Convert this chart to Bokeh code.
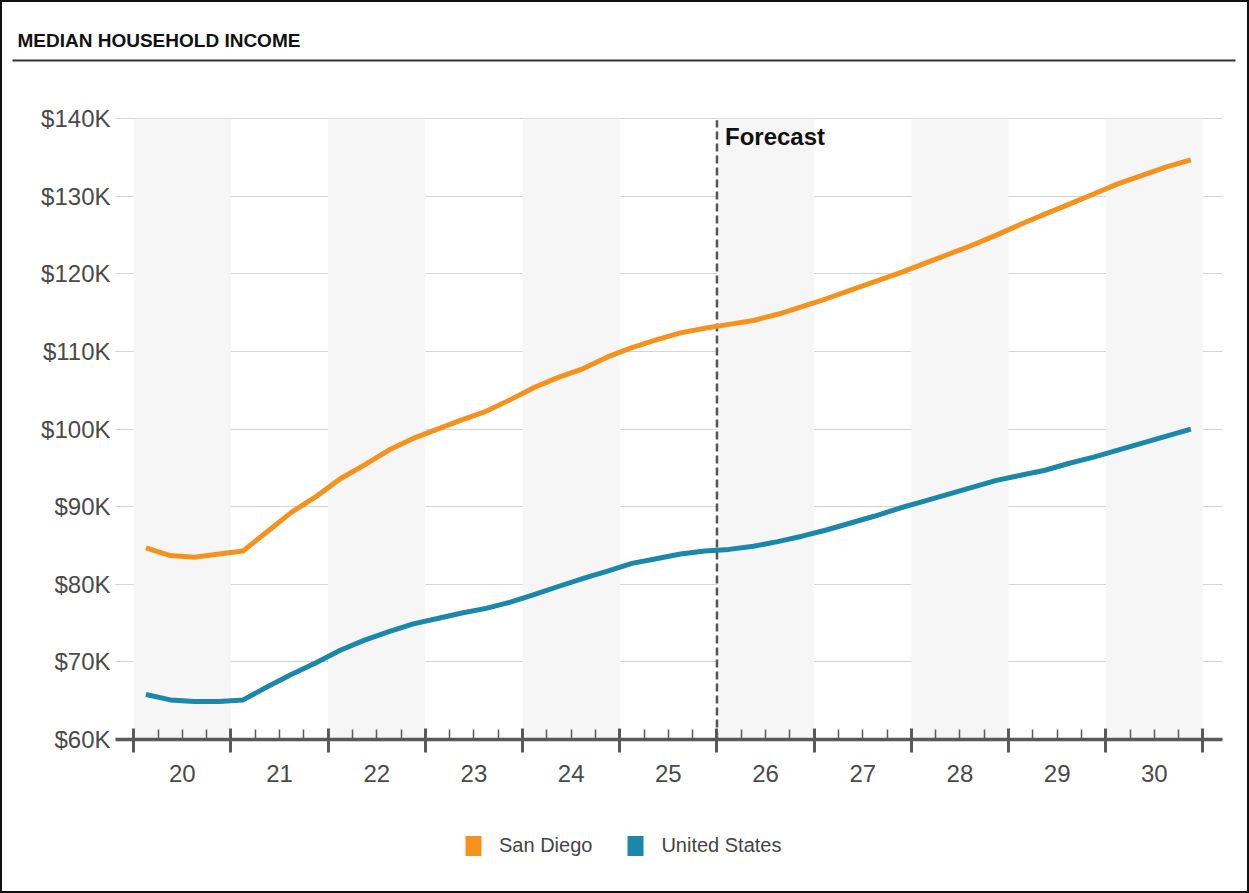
from bokeh.plotting import figure
from bokeh.layouts import column
from bokeh.models import (Range1d, LinearAxis, FixedTicker, Grid, Label, Legend, LegendItem,
                          CustomLabelingPolicy)
from bokeh.embed import file_html
from bokeh.resources import INLINE

# ---------------- data ----------------
title_text = "MEDIAN HOUSEHOLD INCOME"
years = [2020, 2021, 2022, 2023, 2024, 2025, 2026, 2027, 2028, 2029, 2030]
year_labels = ["20", "21", "22", "23", "24", "25", "26", "27", "28", "29", "30"]
quarters = [1, 2, 3, 4]

san_diego = [84.7, 83.7, 83.5, 83.9, 84.3, 86.8, 89.3, 91.3, 93.6, 95.4, 97.3, 98.8,
             100.0, 101.2, 102.3, 103.8, 105.4, 106.7, 107.8, 109.3, 110.5, 111.5, 112.4, 113.0,
             113.5, 114.0, 114.8, 115.8, 116.8, 117.9, 119.0, 120.1, 121.3, 122.5, 123.7, 125.0,
             126.4, 127.7, 129.0, 130.3, 131.6, 132.7, 133.8, 134.7]
united_states = [65.8, 65.1, 64.9, 64.9, 65.1, 66.8, 68.4, 69.9, 71.5, 72.8, 73.9, 74.9,
                 75.6, 76.3, 76.9, 77.7, 78.7, 79.75, 80.75, 81.7, 82.7, 83.3, 83.9, 84.3,
                 84.5, 84.9, 85.5, 86.2, 87.0, 87.9, 88.8, 89.8, 90.7, 91.6, 92.5, 93.4,
                 94.05, 94.7, 95.6, 96.4, 97.3, 98.2, 99.1, 100.0]

y_ticks = [60, 70, 80, 90, 100, 110, 120, 130, 140]
y_tick_labels = ["$60K", "$70K", "$80K", "$90K", "$100K", "$110K", "$120K", "$130K", "$140K"]
shaded_years = [2020, 2022, 2024, 2026, 2028, 2030]
forecast_start = 2026
forecast_text = "Forecast"
series_names = ["San Diego", "United States"]

# quarter midpoints as decimal years
x_q = [y + (q - 0.5) / 4 for y in years for q in quarters]

ORANGE = "#F5921E"
BLUE = "#1B87AA"
AXIS = "#595959"
TXT = "#4a4a4a"
SANS = "Liberation Sans"
NAN = float("nan")

W = 1245
HEAD_H = 60
MAIN_H = 727
LEG_H = 102

def bare(fig):
    fig.outline_line_color = None
    fig.border_fill_color = "white"
    fig.frame_align = False
    return fig

# ---------------- header: title + rule (the rule is the 2px frame) ----------------
head = bare(figure(width=W, height=HEAD_H, output_backend="svg", toolbar_location=None,
                   x_range=Range1d(0, 1), y_range=Range1d(0, 1),
                   x_axis_type=None, y_axis_type=None,
                   min_border_left=10, min_border_right=12, min_border_top=57, min_border_bottom=1,
                   title=title_text))
head.background_fill_color = "#333333"
head.title.align = "left"
head.title.offset = 5
head.title.vertical_align = "bottom"
head.title.standoff = 17
head.title.text_font = SANS
head.title.text_font_style = "bold"
head.title.text_font_size = "19px"
head.title.text_color = "#111111"

# ---------------- main chart ----------------
p = bare(figure(width=W, height=MAIN_H, output_backend="svg", toolbar_location=None,
                x_range=Range1d(2019.812, 2031.201), y_range=Range1d(60, 142.35),
                x_axis_type=None, y_axis_type=None,
                min_border_left=113, min_border_right=25, min_border_top=38, min_border_bottom=50))
p.background_fill_color = "white"

# alternating year bands
p.quad(left=shaded_years, right=[y + 1 for y in shaded_years], bottom=60, top=140,
       fill_color="#f6f6f6", line_color=None)

# y axis
yaxis = LinearAxis(ticker=FixedTicker(ticks=y_ticks),
                   major_label_overrides={t: l for t, l in zip(y_ticks, y_tick_labels)},
                   axis_line_color=None, major_tick_line_color=None, minor_tick_line_color=None,
                   major_tick_in=0, major_tick_out=0, major_label_standoff=5,
                   major_label_text_font=SANS, major_label_text_font_size="24px",
                   major_label_text_color=TXT)
p.add_layout(yaxis, "left")
p.add_layout(Grid(dimension=1, ticker=FixedTicker(ticks=y_ticks[1:]),
                  grid_line_color="#a8a8a8", grid_line_dash="1 1", grid_line_width=1))

# x axis: ticks at year boundaries, minor at quarters (no labels)
bounds = years + [years[-1] + 1]
minor = [y + k / 4 for y in years for k in (1, 2, 3)]
xaxis1 = LinearAxis(ticker=FixedTicker(ticks=bounds, minor_ticks=minor),
                    axis_line_color=AXIS, axis_line_width=3.5,
                    major_tick_line_color=AXIS, major_tick_line_width=3,
                    major_tick_in=11, major_tick_out=13,
                    minor_tick_line_color=AXIS, minor_tick_line_width=1.5,
                    minor_tick_in=10, minor_tick_out=0,
                    major_label_standoff=0,
                    major_label_policy=CustomLabelingPolicy(code="return []"))
p.add_layout(xaxis1, "below")
# second axis: year labels centred in each year
centers = [y + 0.5 for y in years]
xaxis2 = LinearAxis(ticker=FixedTicker(ticks=centers, minor_ticks=[]),
                    major_label_overrides={c: l for c, l in zip(centers, year_labels)},
                    axis_line_color=None, major_tick_line_color=None, minor_tick_line_color=None,
                    major_tick_in=0, major_tick_out=0, major_label_standoff=1,
                    major_label_text_font=SANS, major_label_text_font_size="24px",
                    major_label_text_color=TXT)
p.add_layout(xaxis2, "below")

# forecast divider
p.segment(x0=[forecast_start], y0=[60], x1=[forecast_start], y1=[139.8],
          line_color="#555555", line_width=2.5, line_dash="8 4")
p.add_layout(Label(x=forecast_start, y=140, x_offset=8, y_offset=-4, text=forecast_text,
                   text_baseline="top", text_font=SANS, text_font_style="bold",
                   text_font_size="24px", text_color="#111111"))

# series lines
p.line(x_q, san_diego, line_color=ORANGE, line_width=5, line_join="round")
p.line(x_q, united_states, line_color=BLUE, line_width=5, line_join="round")

# ---------------- legend strip ----------------
leg = bare(figure(width=W, height=LEG_H, output_backend="svg", toolbar_location=None,
                  x_range=Range1d(0, 1), y_range=Range1d(0, 1),
                  x_axis_type=None, y_axis_type=None,
                  min_border_left=0, min_border_right=0, min_border_top=0, min_border_bottom=0))
leg.background_fill_color = "white"
# swatch-only renderers (no visible geometry; they only feed the legend swatches)
r1 = leg.quad(left=[NAN], right=[NAN], top=[NAN], bottom=[NAN], fill_color=ORANGE, line_color=None)
r2 = leg.quad(left=[NAN], right=[NAN], top=[NAN], bottom=[NAN], fill_color=BLUE, line_color=None)
legend = Legend(items=[LegendItem(label=series_names[0], renderers=[r1]),
                       LegendItem(label=series_names[1], renderers=[r2])],
                orientation="horizontal", location=(461, 33),
                glyph_width=20, glyph_height=25, label_standoff=16, spacing=33,
                padding=0, margin=0, border_line_color=None, background_fill_alpha=0,
                label_text_font=SANS, label_text_font_size="20px", label_text_color="#444444")
leg.add_layout(legend)

layout = column(head, p, leg, spacing=0, styles={"border": "2px solid #111111"})
open("out.html", "w").write(file_html(layout, INLINE))
